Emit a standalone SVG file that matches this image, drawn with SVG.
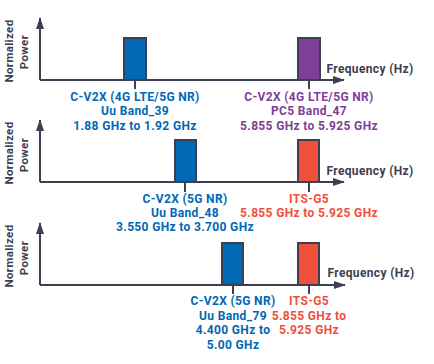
<svg xmlns="http://www.w3.org/2000/svg" width="434" height="364" viewBox="0 0 434 364">
<style>
text{font-family:Roboto,"Liberation Sans",sans-serif;font-weight:700;font-size:12px;letter-spacing:0.35px;text-anchor:middle}
.ax{stroke:#3d4050;stroke-width:2;fill:none}
.bar{stroke:#3d4050;stroke-width:2}
.blue{fill:#0068b5}
.pur{fill:#7e3f97}
.red{fill:#ef503c}
.dk{fill:#3d4050}
.ylab{fill:#3d4050;font-size:11.5px}
</style>
<defs>
<marker id="ah" viewBox="0 0 12 8" refX="11" refY="4" markerWidth="12" markerHeight="8" markerUnits="userSpaceOnUse" orient="auto">
<path d="M0,0 L12,4 L0,8 Z" fill="#3d4050"/>
</marker>
</defs>
<g id="connectors">
<path class="ax" d="M40,80 V18" marker-end="url(#ah)"/>
<path class="ax" d="M40,80 H344" marker-end="url(#ah)"/>
<path class="ax" d="M135,80 V89 M309,80 V89"/>
<path class="ax" d="M40,182 V120" marker-end="url(#ah)"/>
<path class="ax" d="M40,182 H344" marker-end="url(#ah)"/>
<path class="ax" d="M185,182 V192 M309,182 V192"/>
<path class="ax" d="M40,285 V223" marker-end="url(#ah)"/>
<path class="ax" d="M40,285 H345" marker-end="url(#ah)"/>
<path class="ax" d="M233,285 V294 M309,285 V294"/>
</g>
<g id="axis-labels">
<text class="ylab" transform="translate(13,51) rotate(-90)">Normalized</text>
<text class="ylab" transform="translate(28,52) rotate(-90)">Power</text>
<text class="ylab" transform="translate(13,153) rotate(-90)">Normalized</text>
<text class="ylab" transform="translate(28,155) rotate(-90)">Power</text>
<text class="ylab" transform="translate(13,256) rotate(-90)">Normalized</text>
<text class="ylab" transform="translate(28,258) rotate(-90)">Power</text>
<text class="dk" x="370" y="73">Frequency (Hz)</text>
<text class="dk" x="370" y="175">Frequency (Hz)</text>
<text class="dk" x="371" y="277">Frequency (Hz)</text>
</g>
<g id="band39">
<rect class="bar blue" x="124" y="38" width="22" height="42"/>
<text class="blue" x="135" y="101">C-V2X (4G LTE/5G NR)</text>
<text class="blue" x="135" y="115">Uu Band_39</text>
<text class="blue" x="135" y="130">1.88 GHz to 1.92 GHz</text>
</g>
<g id="band47">
<rect class="bar pur" x="298" y="38" width="22" height="42"/>
<text class="pur" x="309" y="101">C-V2X (4G LTE/5G NR)</text>
<text class="pur" x="309" y="115">PC5 Band_47</text>
<text class="pur" x="309" y="130">5.855 GHz to 5.925 GHz</text>
</g>
<g id="band48">
<rect class="bar blue" x="175" y="140" width="21" height="42"/>
<text class="blue" x="185" y="203">C-V2X (5G NR)</text>
<text class="blue" x="185" y="217">Uu Band_48</text>
<text class="blue" x="185" y="231">3.550 GHz to 3.700 GHz</text>
</g>
<g id="itsg5-a">
<rect class="bar red" x="298" y="140" width="21" height="42"/>
<text class="red" x="309" y="203">ITS-G5</text>
<text class="red" x="309" y="217">5.855 GHz to 5.925 GHz</text>
</g>
<g id="band79">
<rect class="bar blue" x="222" y="243" width="21" height="42"/>
<text class="blue" x="233" y="305">C-V2X (5G NR)</text>
<text class="blue" x="233" y="320">Uu Band_79</text>
<text class="blue" x="233" y="334">4.400 GHz to</text>
<text class="blue" x="233" y="349">5.00 GHz</text>
</g>
<g id="itsg5-b">
<rect class="bar red" x="298" y="243" width="21" height="42"/>
<text class="red" x="309" y="305">ITS-G5</text>
<text class="red" x="309" y="320">5.855 GHz to</text>
<text class="red" x="309" y="334">5.925 GHz</text>
</g>
</svg>
